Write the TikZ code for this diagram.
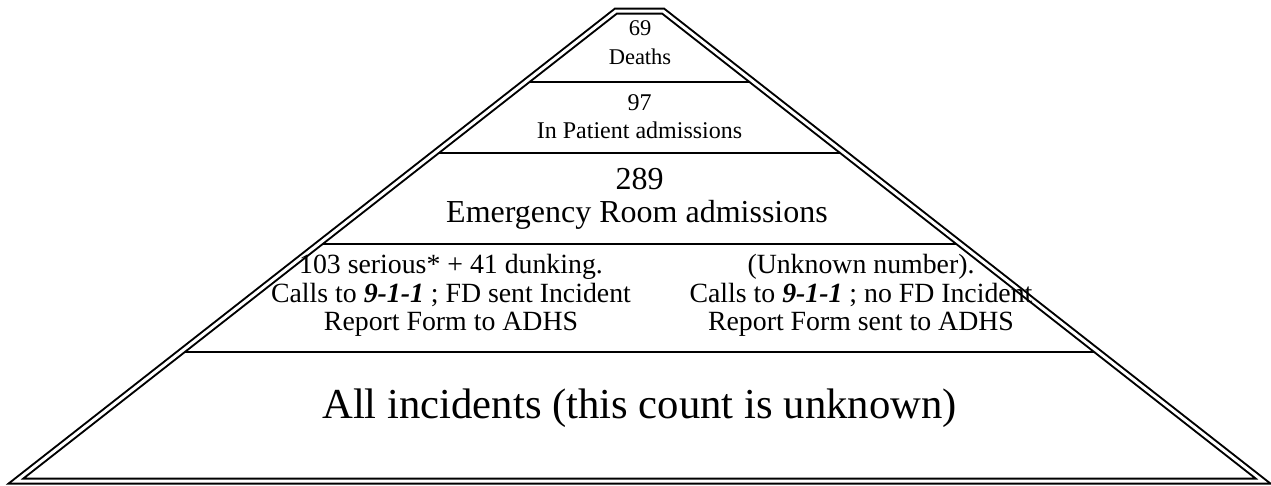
\documentclass[tikz,border=0pt]{standalone}
\usepackage{fontspec}
\setmainfont{Liberation Serif}
\begin{document}
\begin{tikzpicture}[x=1pt,y=-1pt,
  frame/.style={draw=black,line width=2pt,double=white,double distance=3pt,line join=miter},
  tierline/.style={draw=black,line width=1.6pt},
  lbl/.style={anchor=base,inner sep=0pt,align=center}]
\useasboundingbox (0,0) rectangle (1271,485);
% pyramid outline (double line)
\coordinate (bl) at (16,481);
\coordinate (tl) at (616,11);
\coordinate (tr) at (663,11);
\coordinate (br) at (1263,481);
\draw[frame] (bl) -- (tl) -- (tr) -- (br) -- cycle;
% tier separators
\coordinate (a1) at (529.4,82);  \coordinate (b1) at (749.6,82);
\coordinate (a2) at (438.8,153); \coordinate (b2) at (840.2,153);
\coordinate (a3) at (322.6,244); \coordinate (b3) at (956.4,244);
\coordinate (a4) at (184.7,352); \coordinate (b4) at (1094.3,352);
\draw[tierline] (a1) -- (b1);
\draw[tierline] (a2) -- (b2);
\draw[tierline] (a3) -- (b3);
\draw[tierline] (a4) -- (b4);
% texts
\node[lbl,font=\fontsize{22.5}{24}\selectfont] (t1a) at (640,35) {69};
\node[lbl,font=\fontsize{22.5}{24}\selectfont] (t1b) at (640,64) {Deaths};
\node[lbl,font=\fontsize{24}{26}\selectfont] (t2a) at (639.5,110) {97};
\node[lbl,font=\fontsize{24}{26}\selectfont] (t2b) at (639.5,138) {In Patient admissions};
\node[lbl,font=\fontsize{32}{34}\selectfont] (t3a) at (639.5,189) {289};
\node[lbl,font=\fontsize{32}{34}\selectfont] (t3b) at (637,222) {Emergency Room admissions};
\node[lbl,font=\fontsize{27.8}{28.5}\selectfont] (l1) at (451,273) {103 serious* + 41 dunking.};
\node[lbl,font=\fontsize{27.8}{28.5}\selectfont] (l2) at (451,302) {Calls to \textbf{\textit{9-1-1}} ; FD sent Incident};
\node[lbl,font=\fontsize{27.8}{28.5}\selectfont] (l3) at (451,330) {Report Form to ADHS};
\node[lbl,font=\fontsize{27.8}{28.5}\selectfont] (r1) at (861,273) {(Unknown number).};
\node[lbl,font=\fontsize{27.8}{28.5}\selectfont] (r2) at (861,302) {Calls to \textbf{\textit{9-1-1}} ; no FD Incident};
\node[lbl,font=\fontsize{27.8}{28.5}\selectfont] (r3) at (861,330) {Report Form sent to ADHS};
\node[lbl,font=\fontsize{42.7}{46}\selectfont] (base) at (639.5,418) {All incidents (this count is unknown)};
\end{tikzpicture}
\end{document}
